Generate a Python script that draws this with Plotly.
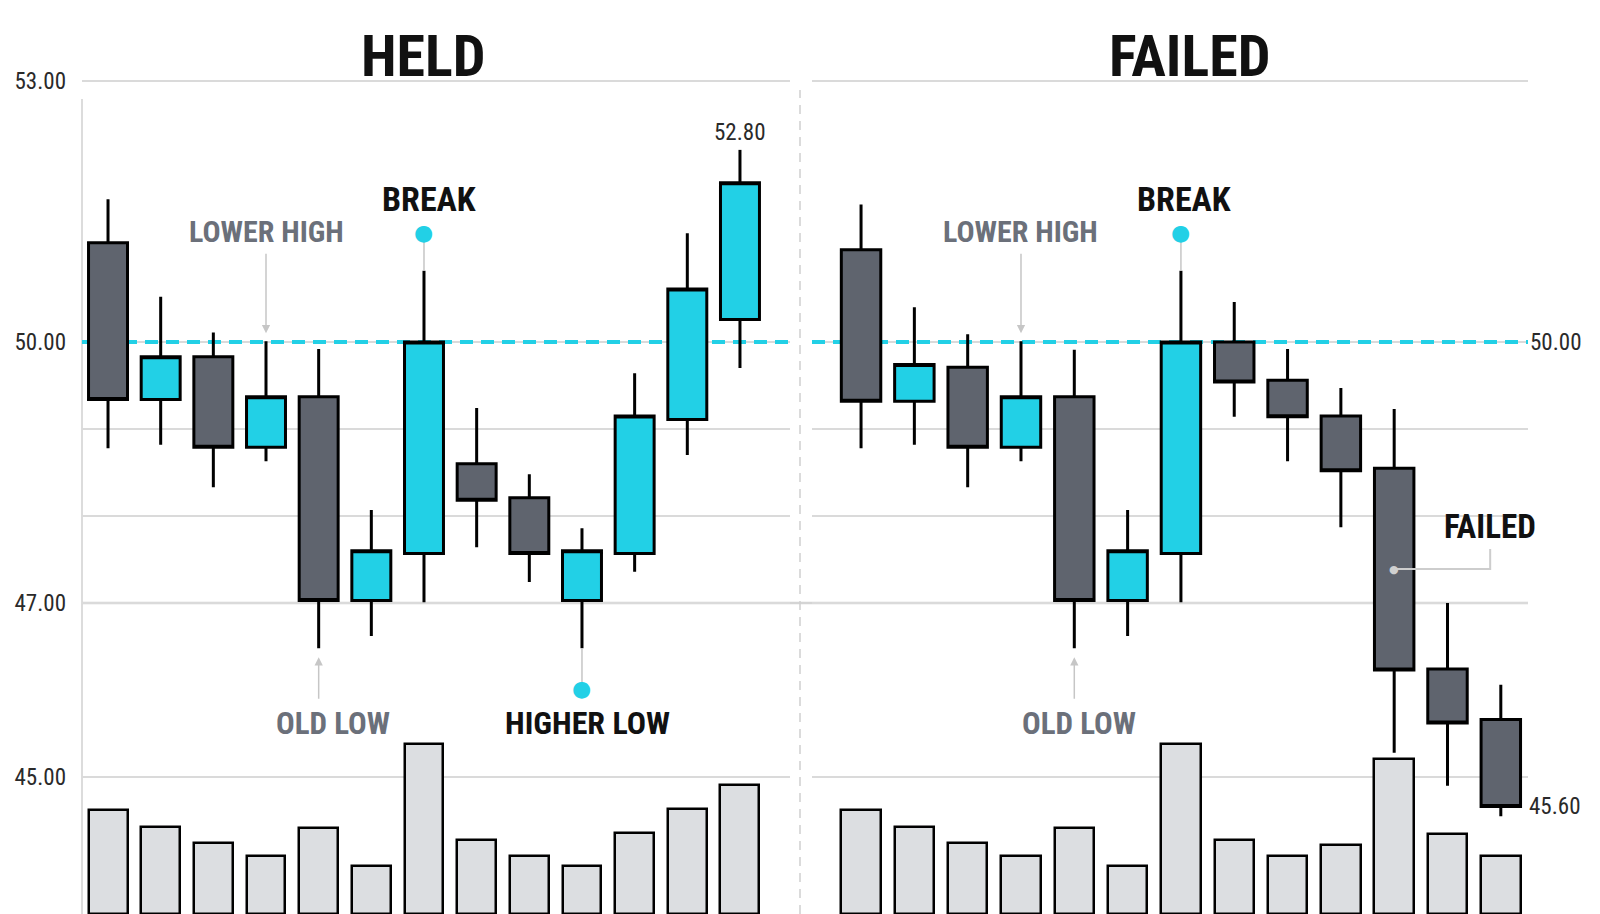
import plotly.graph_objects as go

# ---------------- data ----------------
idx = list(range(13))

held_open  = [51.14, 49.34, 49.83, 48.79, 49.37, 47.03, 47.57, 48.60, 48.21, 47.03, 47.57, 49.11, 50.26]
held_high  = [51.64, 50.52, 50.11, 50.01, 49.92, 48.07, 50.82, 49.24, 48.48, 47.86, 49.64, 51.25, 52.21]
held_low   = [48.78, 48.82, 48.33, 48.63, 46.48, 46.62, 47.01, 47.64, 47.24, 46.48, 47.36, 48.70, 49.70]
held_close = [49.34, 49.83, 48.79, 49.37, 47.03, 47.60, 50.00, 48.18, 47.57, 47.60, 49.15, 50.61, 51.83]
held_vol   = [12.4, 10.4, 8.5, 6.9, 10.3, 5.7, 20.3, 8.9, 6.9, 5.7, 9.7, 12.6, 15.4]

failed_open  = [51.06, 49.32, 49.71, 48.79, 49.37, 47.03, 47.57, 50.00, 49.56, 49.15, 48.55, 46.24, 45.66]
failed_high  = [51.58, 50.40, 50.09, 50.01, 49.91, 48.07, 50.82, 50.46, 49.92, 49.47, 49.23, 47.00, 46.06]
failed_low   = [48.78, 48.82, 48.33, 48.63, 46.48, 46.62, 47.01, 49.14, 48.63, 47.87, 45.28, 44.90, 44.55]
failed_close = [49.32, 49.74, 48.79, 49.37, 47.03, 47.60, 50.00, 49.54, 49.14, 48.52, 46.23, 45.62, 44.66]
failed_vol   = [12.4, 10.4, 8.5, 6.9, 10.3, 5.7, 20.3, 8.9, 6.9, 8.3, 18.5, 9.6, 6.9]

break_level = 50.0
old_low_level = 47.0
price_ticks = [53, 50, 49, 48, 47, 45]
price_tick_text = ["53.00", "50.00", "", "", "47.00", "45.00"]

# ---------------- style ----------------
W, H = 1600, 914
CYAN = "#22d0e6"
GREY_BODY = "#5f646e"
VOL_FILL = "#dcdee1"
GRID = "#dadada"
LABEL_GREY = "#6b707a"
ARROW_GREY = "#c6c6c6"
NARROW = "Roboto Condensed, DejaVu Sans Condensed, sans-serif"

def px_x(p):
    return p / W

def px_y(p):
    return 1 - p / H

xr_left = [-0.494, 12.95]
xr_right = [-0.92, 12.51]

fig = go.Figure()

inc = dict(fillcolor=CYAN, line=dict(color="black", width=3))
dec = dict(fillcolor=GREY_BODY, line=dict(color="black", width=3))
fig.add_trace(go.Candlestick(x=idx, open=held_open, high=held_high, low=held_low, close=held_close,
                             xaxis="x", yaxis="y", increasing=inc, decreasing=dec,
                             whiskerwidth=0, showlegend=False))
fig.add_trace(go.Candlestick(x=idx, open=failed_open, high=failed_high, low=failed_low, close=failed_close,
                             xaxis="x2", yaxis="y", increasing=inc, decreasing=dec,
                             whiskerwidth=0, showlegend=False))

vol_style = dict(color=VOL_FILL, line=dict(color="black", width=2.5))
fig.add_trace(go.Bar(x=idx, y=held_vol, xaxis="x", yaxis="y2", width=0.74,
                     marker=vol_style, hoverinfo="skip", showlegend=False))
fig.add_trace(go.Bar(x=idx, y=failed_vol, xaxis="x2", yaxis="y2", width=0.74,
                     marker=vol_style, hoverinfo="skip", showlegend=False))

y_top_px = 78
scale = 87.0
y_dom_top = px_y(y_top_px)
price_range = [break_level - (H - 342) / scale, break_level + (342 - y_top_px) / scale]

xaxis_common = dict(visible=False, rangeslider=dict(visible=False), fixedrange=True)

fig.update_layout(
    width=W, height=H,
    margin=dict(l=0, r=0, t=0, b=0),
    paper_bgcolor="white", plot_bgcolor="white",
    boxgap=0.26, boxgroupgap=0, bargap=0,
    showlegend=False,
    xaxis=dict(domain=[px_x(82), px_x(790)], range=xr_left, **xaxis_common),
    xaxis2=dict(domain=[px_x(812), px_x(1528)], range=xr_right, **xaxis_common),
    yaxis=dict(domain=[0, y_dom_top], anchor="x", side="left", range=price_range,
               tickmode="array", tickvals=price_ticks, ticktext=price_tick_text,
               showgrid=True, gridcolor=GRID, gridwidth=1.5, zeroline=False,
               showline=False, ticks="", ticklabelstandoff=15, automargin=False, fixedrange=True,
               tickfont=dict(family=NARROW, size=23, color="#2a2a2a")),
    yaxis2=dict(overlaying="y", range=[0, 100], visible=False, showgrid=False, fixedrange=True),
)

shapes = []
# y-axis line
shapes.append(dict(type="line", xref="paper", yref="paper", x0=px_x(82), x1=px_x(82),
                   y0=0, y1=px_y(99), line=dict(color="#d0d0d0", width=1.5), layer="below"))
# old-low level line across both panels
shapes.append(dict(type="line", xref="paper", yref="y", x0=px_x(82), x1=px_x(1528),
                   y0=old_low_level, y1=old_low_level, line=dict(color="#d4d4d4", width=2.5), layer="below"))
# break level dashed lines (between grid and candles)
for xr, rng in (("x", xr_left), ("x2", xr_right)):
    shapes.append(dict(type="line", xref=xr, yref="y", x0=rng[0], x1=rng[1],
                       y0=break_level, y1=break_level,
                       line=dict(color=CYAN, width=4, dash="13px,8px"), layer="between"))
# divider
shapes.append(dict(type="line", xref="paper", yref="paper", x0=px_x(800), x1=px_x(800),
                   y0=0, y1=px_y(90), line=dict(color="#cfcfcf", width=1.5, dash="9px,7px"), layer="below"))
# FAILED callout elbow
failed_mid = (failed_open[10] + failed_close[10]) / 2
shapes.append(dict(type="path", xref="x2", yref="y", xsizemode="pixel", ysizemode="pixel",
                   xanchor=10, yanchor=failed_mid, path="M 0 0 L 96 0 L 96 20",
                   line=dict(color="#cdcdcd", width=2)))
fig.update_layout(shapes=shapes)

ann = []
def bold(t):
    return "<b>" + t + "</b>"

for t, xc in (("HELD", 423), ("FAILED", 1189)):
    ann.append(dict(text=bold(t), xref="paper", yref="paper", x=px_x(xc), y=px_y(56),
                    xanchor="center", yanchor="middle",
                    showarrow=False, font=dict(family=NARROW, size=58, color="#111111")))

for xr, highs, lows, olx, bx in (("x", held_high, held_low, 14, 5), ("x2", failed_high, failed_low, 5, 3)):
    ann.append(dict(text="", xref=xr, yref="y", x=3, y=highs[3], showarrow=True, ax=0, ay=-89,
                    arrowhead=2, arrowsize=1.1, arrowwidth=1.5, arrowcolor=ARROW_GREY, standoff=8))
    ann.append(dict(text=bold("LOWER HIGH"), xref=xr, yref="y", x=3, y=highs[3], yshift=110,
                    showarrow=False, font=dict(family=NARROW, size=30, color=LABEL_GREY)))
    ann.append(dict(text="", xref=xr, yref="y", x=4, y=lows[4], showarrow=True, ax=0, ay=52,
                    arrowhead=2, arrowsize=1.1, arrowwidth=1.5, arrowcolor=ARROW_GREY, standoff=9))
    ann.append(dict(text=bold("OLD LOW"), xref=xr, yref="y", x=4, y=lows[4], yshift=-75, xshift=olx,
                    showarrow=False, font=dict(family=NARROW, size=31, color=LABEL_GREY)))
    ann.append(dict(text="", xref=xr, yref="y", x=6, y=highs[6], showarrow=True,
                    ax=0, ay=-38, arrowhead=0, arrowwidth=1.5, arrowcolor=ARROW_GREY, standoff=0))
    ann.append(dict(text="●", xref=xr, yref="y", x=6, y=highs[6], yshift=38, showarrow=False,
                    font=dict(family="DejaVu Sans", size=22, color=CYAN)))
    ann.append(dict(text=bold("BREAK"), xref=xr, yref="y", x=6, y=highs[6], yshift=72, xshift=bx,
                    showarrow=False, font=dict(family=NARROW, size=34, color="#111111")))

ann.append(dict(text="", xref="x", yref="y", x=9, y=held_low[9], showarrow=True,
                ax=0, ay=40, arrowhead=0, arrowwidth=1.5, arrowcolor=ARROW_GREY, standoff=0))
ann.append(dict(text="●", xref="x", yref="y", x=9, y=held_low[9], yshift=-40, showarrow=False,
                font=dict(family="DejaVu Sans", size=22, color=CYAN)))
ann.append(dict(text=bold("HIGHER LOW"), xref="x", yref="y", x=9, y=held_low[9], yshift=-75, xshift=6,
                showarrow=False, font=dict(family=NARROW, size=32, color="#111111")))

ann.append(dict(text="52.80", xref="x", yref="y", x=12, y=held_high[12], yshift=17, showarrow=False,
                bgcolor="white", borderpad=3, font=dict(family=NARROW, size=23, color="#2a2a2a")))
ann.append(dict(text="45.60", xref="x2", yref="y", x=12, y=failed_close[12], xshift=54, showarrow=False,
                font=dict(family=NARROW, size=23, color="#2a2a2a")))
ann.append(dict(text="50.00", xref="paper", yref="y", x=px_x(1555), y=break_level, xanchor="center",
                showarrow=False, font=dict(family=NARROW, size=23, color="#2a2a2a")))

ann.append(dict(text="●", xref="x2", yref="y", x=10, y=failed_mid, showarrow=False,
                font=dict(family="DejaVu Sans", size=11, color="#d0d0d0")))
ann.append(dict(text=bold("FAILED"), xref="x2", yref="y", x=10, y=failed_mid, xshift=96, yshift=43,
                showarrow=False, font=dict(family=NARROW, size=33, color="#111111")))

fig.update_layout(annotations=ann)

fig.write_html("out.html", config={"displayModeBar": False},
               post_script="document.body.style.margin='0';")
